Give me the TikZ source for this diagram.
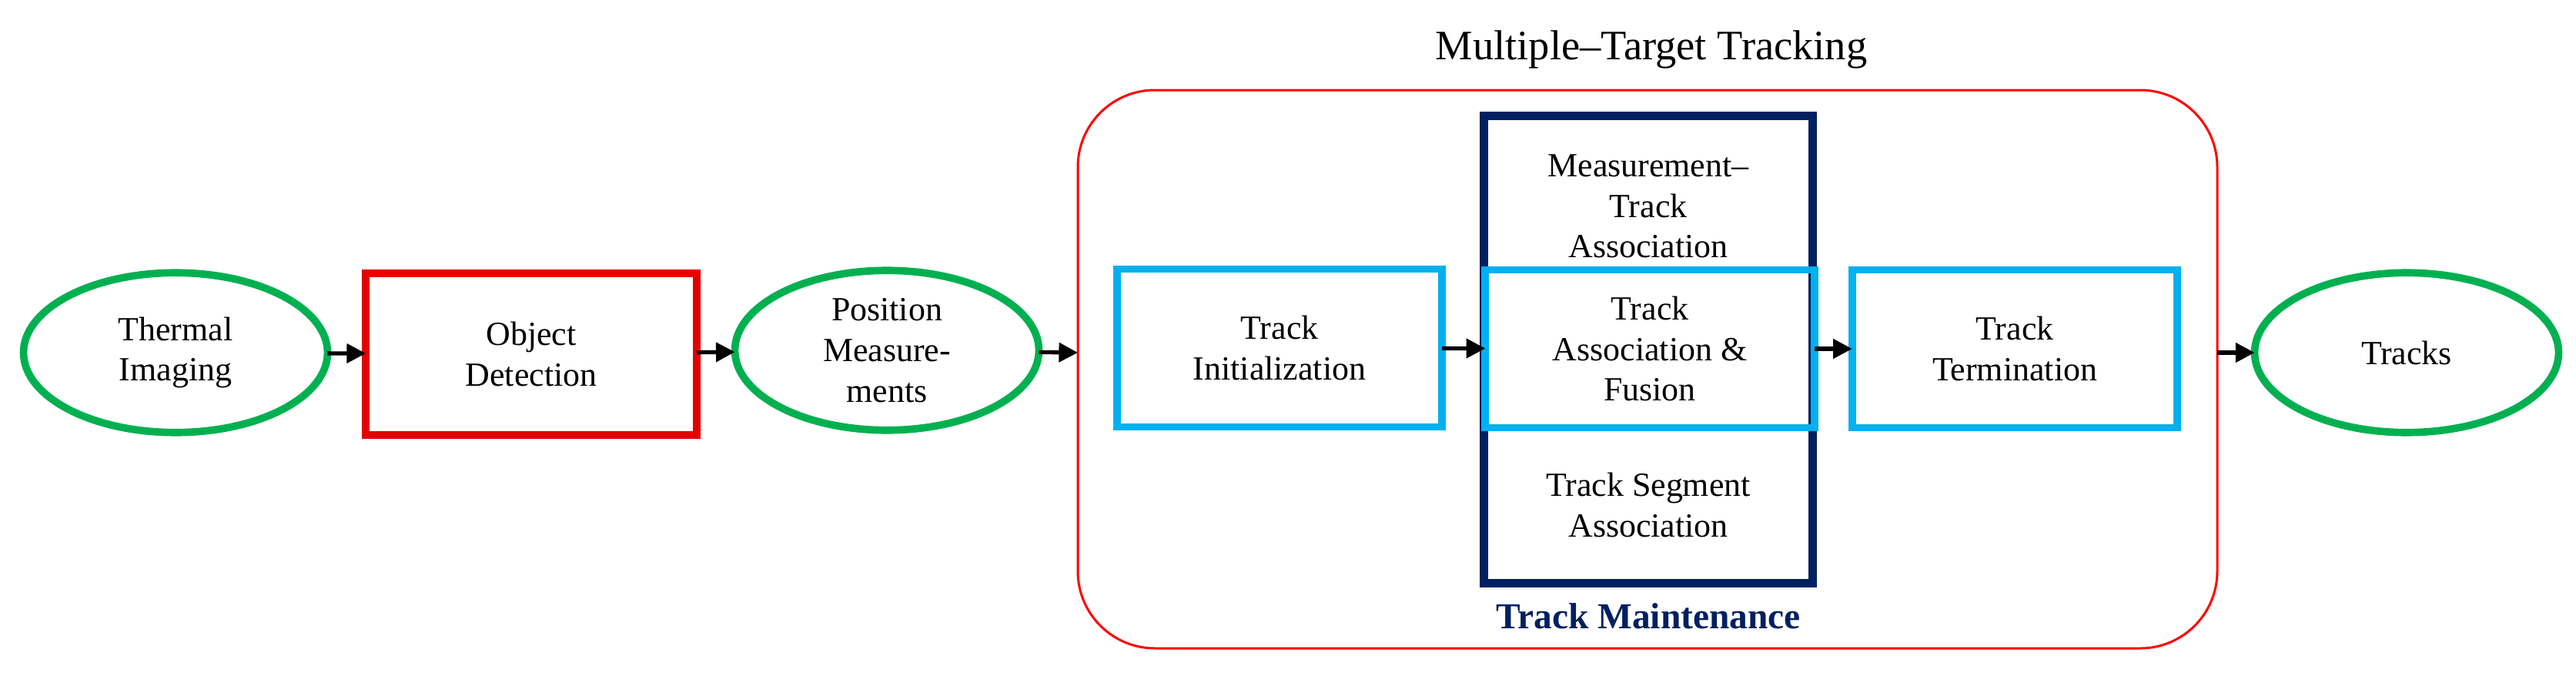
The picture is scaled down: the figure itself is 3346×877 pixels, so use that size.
\documentclass[tikz,border=0pt]{standalone}
\usepackage{fontspec}
\setmainfont{Liberation Serif}
\usetikzlibrary{shapes.geometric,arrows.meta}
\definecolor{cgreen}{RGB}{0,176,80}
\definecolor{cred}{RGB}{230,0,0}
\definecolor{ccyan}{RGB}{0,176,240}
\definecolor{cnavy}{RGB}{0,32,96}
\tikzset{
  txt/.style={align=center,font=\fontsize{25}{30}\selectfont},
  oval/.style={txt,ellipse,draw=cgreen,line width=5.5pt,minimum width=7.9cm,minimum height=4.15cm},
  stage/.style={txt,rectangle,line width=5.5pt,minimum width=8.45cm,minimum height=4.1cm},
  flow/.style={-{Triangle[length=14pt,width=14pt]},line width=3pt}
}
\begin{document}
\begin{tikzpicture}[y=0.02cm, x=0.02cm, inner sep=0pt, outer sep=0pt]
  \useasboundingbox (0,0) rectangle (3346,-877);

  % frame of the tracker
  \draw[draw=red,line width=1.7pt,rounded corners=2cm] (1400,-117) rectangle (2880,-842);
  \node[font=\fontsize{31}{36}\selectfont] (title) at (2145,-64){Multiple--Target Tracking};
  \coordinate (inMTT) at (1400,-458);
  \coordinate (outMTT) at (2880,-458);

  % track maintenance block
  \node[draw=cnavy,line width=6.5pt,minimum width=8.55cm,minimum height=12.15cm] (maint) at (2141,-454){};
  \node[txt] (meas) at (2141,-268){Measurement--\\Track\\Association};
  \node[txt] (segm) at (2141,-656){Track Segment\\Association};
  \node[font=\fontsize{27}{32}\selectfont\bfseries,text=cnavy] (mlabel) at (2141,-800){Track Maintenance};

  % chain
  \node[oval] (thermal) at (228,-458){Thermal\\Imaging};
  \node[stage,draw=cred,minimum width=8.6cm,minimum height=4.2cm] (detect) at (690,-460){Object\\Detection};
  \node[oval] (position) at (1152,-455){Position\\Measure-\\ments};
  \node[stage,draw=ccyan] (init) at (1662,-452){Track\\Initialization};
  \node[stage,draw=ccyan,minimum width=8.55cm] (fusion) at (2143,-453){Track\\Association \&\\Fusion};
  \node[stage,draw=ccyan] (term) at (2617,-453){Track\\Termination};
  \node[oval] (tracks) at (3126,-458){Tracks};

  \draw[flow] (thermal) -- (detect);
  \draw[flow] (detect) -- (position);
  \draw[flow] (position) -- (inMTT);
  \draw[flow] (init) -- (fusion);
  \draw[flow] (fusion) -- (term);
  \draw[flow] (outMTT) -- (tracks);
\end{tikzpicture}
\end{document}
